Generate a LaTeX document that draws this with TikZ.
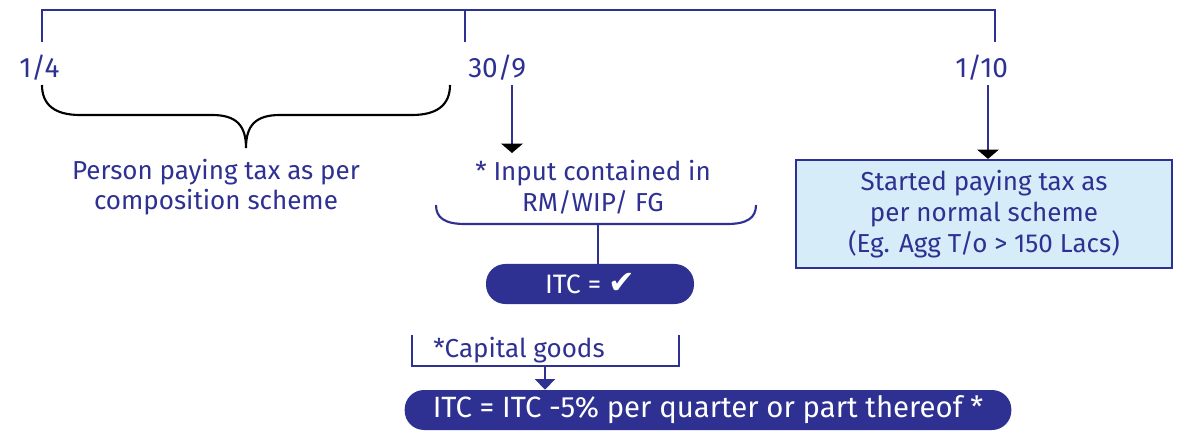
\documentclass[tikz,border=0pt]{standalone}
\usepackage{fontspec}
\setmainfont{Fira Sans}
\newfontfamily\symfont{DejaVu Sans}
\usetikzlibrary{arrows.meta}
\definecolor{navy}{HTML}{2E3192}
\definecolor{paleblue}{HTML}{D6ECF9}
\begin{document}
\begin{tikzpicture}[x=0.75pt,y=-0.75pt,
  bline/.style={navy, line width=1.6pt},
  kline/.style={black, line width=1.6pt},
  txt/.style={text=navy, font=\fontsize{19.5}{23}\selectfont, align=center, inner sep=0pt},
  pill/.style={fill=navy, text=white, rounded corners=14.5pt, minimum height=30pt, inner sep=0pt},
  darr/.style={bline, -{Triangle[width=16pt, length=7pt, fill=black, color=black]}},
  barr/.style={bline, -{Triangle[width=15pt, length=8pt]}}]
\useasboundingbox (0,0) rectangle (1179,431);
% timeline
\coordinate (t1) at (42,42);
\coordinate (t2) at (465,42);
\coordinate (t3) at (995,42);
\coordinate (t2top) at (465,10);
\draw[bline] (t1) |- (t2top) -| (t3);
\draw[bline] (t2top) -- (t2);
% dates
\node[txt, anchor=west, font=\fontsize{21}{23}\selectfont] (d1) at (19,68) {1/4};
\node[txt, anchor=west, font=\fontsize{21}{23}\selectfont] (d2) at (468,68) {30/9};
\node[txt, anchor=west, font=\fontsize{21}{23}\selectfont] (d3) at (955,68) {1/10};
% brace 1
\draw[kline] (42,85) .. controls (42,105) and (55,115) .. (80,115) -- (212,115)
  .. controls (236,115) and (246,125) .. (246,148)
  .. controls (246,125) and (256,115) .. (280,115) -- (412,115)
  .. controls (437,115) and (450,105) .. (450,85);
\node[txt] (comp) at (216,187) {Person paying tax as per\\composition scheme};
% 30/9 branch
\coordinate (a1s) at (512,85);
\node[txt] (inp) at (593,187) {* Input contained in\\RM/WIP/ FG};
\draw[darr] (a1s) -- (512,153);
\coordinate (bm) at (598,224);
\draw[bline] (436,205) .. controls (436,218) and (445,224) .. (465,224) -- (727,224)
  .. controls (747,224) and (756,218) .. (756,205);
\node[pill, minimum width=156pt, font=\fontsize{20}{23}\selectfont] (itc) at (590,284) {ITC = \raisebox{0pt}{\symfont\fontsize{24}{24}\selectfont ✔}};
\draw[bline] (bm) -- (bm |- itc.north);
% 1/10 branch
\node[txt, draw=navy, line width=1.6pt, fill=paleblue, minimum width=282pt, minimum height=81pt] (norm) at (984,214)
  {Started paying tax as\\per normal scheme\\(Eg. Agg T/o > 150 Lacs)};
\coordinate (a2s) at (988,85);
\draw[darr] (a2s) -- (a2s |- norm.north);
% capital goods
\coordinate (cgl) at (412,335);
\coordinate (cgr) at (679,335);
\coordinate (cgm) at (545,366);
\draw[bline] (cgl) |- (cgm) -| (cgr);
\node[txt, anchor=base west] (cg) at (433,357) {*Capital goods};
\node[pill, minimum width=455pt, font=\fontsize{22}{24}\selectfont] (itc2) at (708,410) {ITC = ITC -5\% per quarter or part thereof *};
\draw[barr] (cgm) -- (cgm |- itc2.north);
\end{tikzpicture}
\end{document}
